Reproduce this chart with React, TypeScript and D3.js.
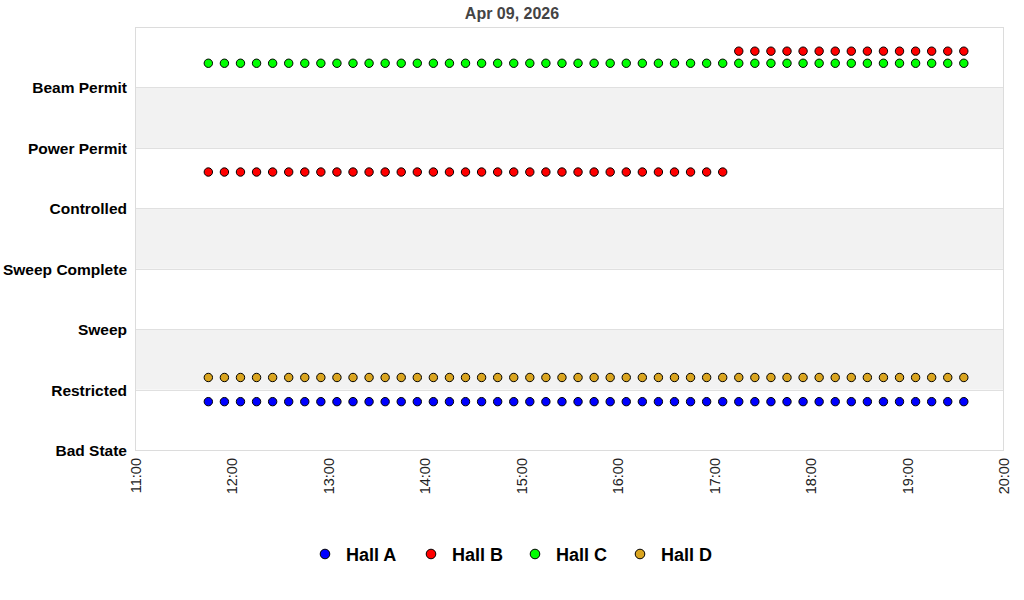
import React from "react";
import * as d3 from "d3";

const title = "Apr 09, 2026";
const stateLabels = ["Bad State", "Restricted", "Sweep", "Sweep Complete", "Controlled", "Power Permit", "Beam Permit"];
const xTickLabels = ["11:00", "12:00", "13:00", "14:00", "15:00", "16:00", "17:00", "18:00", "19:00", "20:00"];
const times = [
  "11:45", "11:55", "12:05", "12:15", "12:25", "12:35", "12:45", "12:55",
  "13:05", "13:15", "13:25", "13:35", "13:45", "13:55", "14:05", "14:15",
  "14:25", "14:35", "14:45", "14:55", "15:05", "15:15", "15:25", "15:35",
  "15:45", "15:55", "16:05", "16:15", "16:25", "16:35", "16:45", "16:55",
  "17:05", "17:15", "17:25", "17:35", "17:45", "17:55", "18:05", "18:15",
  "18:25", "18:35", "18:45", "18:55", "19:05", "19:15", "19:25", "19:35",
];
const hallA = [
  0.8, 0.8, 0.8, 0.8, 0.8, 0.8, 0.8, 0.8, 0.8, 0.8, 0.8, 0.8, 0.8, 0.8, 0.8, 0.8,
  0.8, 0.8, 0.8, 0.8, 0.8, 0.8, 0.8, 0.8, 0.8, 0.8, 0.8, 0.8, 0.8, 0.8, 0.8, 0.8,
  0.8, 0.8, 0.8, 0.8, 0.8, 0.8, 0.8, 0.8, 0.8, 0.8, 0.8, 0.8, 0.8, 0.8, 0.8, 0.8,
];
const hallB = [
  4.6, 4.6, 4.6, 4.6, 4.6, 4.6, 4.6, 4.6, 4.6, 4.6, 4.6, 4.6, 4.6, 4.6, 4.6, 4.6,
  4.6, 4.6, 4.6, 4.6, 4.6, 4.6, 4.6, 4.6, 4.6, 4.6, 4.6, 4.6, 4.6, 4.6, 4.6, 4.6,
  4.6, 6.6, 6.6, 6.6, 6.6, 6.6, 6.6, 6.6, 6.6, 6.6, 6.6, 6.6, 6.6, 6.6, 6.6, 6.6,
];
const hallC = [
  6.4, 6.4, 6.4, 6.4, 6.4, 6.4, 6.4, 6.4, 6.4, 6.4, 6.4, 6.4, 6.4, 6.4, 6.4, 6.4,
  6.4, 6.4, 6.4, 6.4, 6.4, 6.4, 6.4, 6.4, 6.4, 6.4, 6.4, 6.4, 6.4, 6.4, 6.4, 6.4,
  6.4, 6.4, 6.4, 6.4, 6.4, 6.4, 6.4, 6.4, 6.4, 6.4, 6.4, 6.4, 6.4, 6.4, 6.4, 6.4,
];
const hallD = [
  1.2, 1.2, 1.2, 1.2, 1.2, 1.2, 1.2, 1.2, 1.2, 1.2, 1.2, 1.2, 1.2, 1.2, 1.2, 1.2,
  1.2, 1.2, 1.2, 1.2, 1.2, 1.2, 1.2, 1.2, 1.2, 1.2, 1.2, 1.2, 1.2, 1.2, 1.2, 1.2,
  1.2, 1.2, 1.2, 1.2, 1.2, 1.2, 1.2, 1.2, 1.2, 1.2, 1.2, 1.2, 1.2, 1.2, 1.2, 1.2,
];
const seriesNames = ["Hall A", "Hall B", "Hall C", "Hall D"];
const seriesColors = ["#0000ff", "#ff0000", "#00ff00", "#daa520"];
const seriesValues = [hallA, hallB, hallC, hallD];

const toMin = (s: string) => {
  const [h, m] = s.split(":").map(Number);
  return h * 60 + m;
};

export default function App() {
  const W = 1024, H = 600;
  const left = 136, right = 1004, top = 27, bottom = 450;
  const x = d3.scaleLinear().domain([toMin(xTickLabels[0]), toMin(xTickLabels[xTickLabels.length - 1])]).range([left, right]);
  const y = d3.scaleLinear().domain([0, 7]).range([bottom, top]);
  const font = "'Liberation Sans', Arial, sans-serif";
  const bands = [1, 3, 5];
  const legendX = [325, 431, 535, 640];

  return (
    <svg width={W} height={H} style={{ position: "absolute", left: 0, top: 0, fontFamily: font }}>
      <rect x={0} y={0} width={W} height={H} fill="#fff" />
      <text x={512} y={19} textAnchor="middle" fontSize={16} fontWeight="bold" fill="#444">{title}</text>
      {bands.map((b) => (
        <rect key={b} x={left} y={y(b + 1)} width={right - left} height={y(b) - y(b + 1)} fill="#f2f2f2" />
      ))}
      {d3.range(0, 8).map((v) => (
        <line key={v} x1={left} x2={right} y1={Math.round(y(v)) + 0.5} y2={Math.round(y(v)) + 0.5} stroke="#e0e0e0" />
      ))}
      <rect x={left - 0.5} y={top + 0.5} width={right - left} height={bottom - top} fill="none" stroke="#dcdcdc" />
      {stateLabels.map((s, i) => (
        <text key={s} x={127} y={y(i) + 6} textAnchor="end" fontSize={15.5} fontWeight="bold" fill="#000">{s}</text>
      ))}
      {xTickLabels.map((t) => (
        <text key={t} transform={`translate(${x(toMin(t)) + 5},458) rotate(-90)`} textAnchor="end" fontSize={14.5} fill="#222">{t}</text>
      ))}
      {seriesValues.map((vals, si) => (
        <g key={si}>
          {vals.map((v, i) => (
            <circle key={i} cx={x(toMin(times[i]))} cy={y(v)} r={4.2} fill={seriesColors[si]} stroke="#000" strokeWidth={1} />
          ))}
        </g>
      ))}
      {seriesNames.map((n, i) => (
        <g key={n}>
          <circle cx={legendX[i]} cy={554} r={4.8} fill={seriesColors[i]} stroke="#000" strokeWidth={1} />
          <text x={legendX[i] + 21} y={561} fontSize={18} fontWeight="bold" fill="#000">{n}</text>
        </g>
      ))}
    </svg>
  );
}
